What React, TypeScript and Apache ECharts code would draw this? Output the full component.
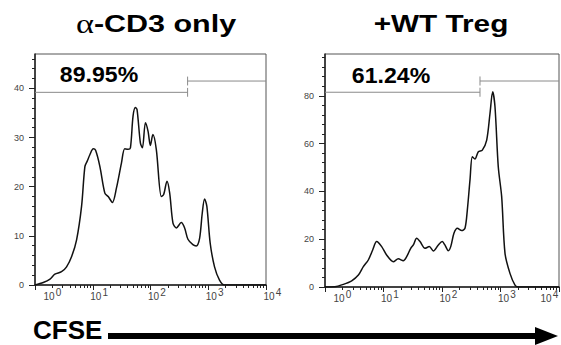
import { useEffect, useRef } from "react";
import * as echarts from "echarts";

// CFSE intensity (log scale) and event counts
const leftCfse = [1, 1.39, 1.82, 2.21, 2.88, 3.52, 4.31, 5.25, 6.4, 7.31, 8.02, 8.91, 10.2, 11.2, 13.3, 16.2, 18.5, 21.9, 25.7, 31.4, 35.8, 40.9, 44.9, 49.9, 54.8, 58.5, 66.8, 72.4, 81.7, 90.6, 99.5, 110, 126, 154, 169, 193, 215, 245, 280, 341, 390, 445, 542, 619, 708, 787, 863, 946, 1081, 1285, 1567, 1914, 10000];
const leftCount = [0, 0.5, 1.2, 2.2, 2.7, 3.7, 5.8, 9.2, 16, 24.1, 25.2, 26.5, 27.7, 27.4, 24.1, 18.7, 18, 16.8, 19.7, 24.8, 27.7, 27.6, 27.9, 34.4, 36.1, 35.7, 28.9, 27.9, 33, 31.3, 28.4, 30.6, 27.6, 18, 18.4, 21.1, 18.7, 12.6, 11.6, 12.7, 11.6, 9.3, 8.2, 7.96, 9.5, 14.6, 17.5, 16, 8.5, 3.7, 1, 0, 0];

const rightCfse = [1, 1.48, 2.06, 2.86, 3.72, 4.52, 5.5, 6.53, 7.64, 9.31, 11.3, 14.7, 17.9, 21.8, 24.9, 29.2, 32.4, 36.9, 42.1, 51.2, 60.7, 71.1, 86.5, 101, 112, 128, 141, 160, 183, 217, 247, 271, 301, 330, 366, 418, 489, 581, 662, 735, 805, 916, 1047, 1194, 1452, 1770, 2018, 10000];
const rightCount = [0, 0.1, 1.1, 2.6, 5, 8.5, 11.3, 15.5, 19, 16.9, 13.4, 10.6, 11.8, 11, 12.7, 16.2, 17.6, 20.4, 19, 16.2, 16.9, 15.1, 17.6, 19, 17.6, 15.2, 16.9, 22.5, 24.6, 23.6, 24.6, 32.2, 44.8, 54.5, 53.6, 56.6, 57.3, 61.5, 72.7, 81.7, 75.4, 50.3, 37.8, 14.1, 5.7, 0.8, 0, 0];

const panelTitles = ["α-CD3 only", "+WT Treg"];
const gatePercents = ["89.95%", "61.24%"];

// gate: split position on CFSE axis, lower / upper bar heights, end-bar half height
const gateSplit = [439, 446];
const gateLower = [39.2, 81.5];
const gateUpper = [41.5, 86.2];
const gateBarHalf = [0.9, 1.9];

const yMax = [47, 97.5];
const yMajorTicks = [
  [0, 10, 20, 30, 40],
  [0, 20, 40, 60, 80],
];
const yMinorTicks = [
  [2, 4, 6, 8, 12, 14, 16, 18, 22, 24, 26, 28, 32, 34, 36, 38, 42, 44, 46],
  [4, 8, 12, 16, 24, 28, 32, 36, 44, 48, 52, 56, 64, 68, 72, 76, 84, 88, 92, 96],
];
const xMinorTicks = [2, 3, 4, 5, 6, 7, 8, 9, 20, 30, 40, 50, 60, 70, 80, 90, 200, 300, 400, 500, 600, 700, 800, 900, 2000, 3000, 4000, 5000, 6000, 7000, 8000, 9000];

const grids = [
  { left: 35, top: 54, width: 231, height: 231 },
  { left: 325, top: 54, width: 234, height: 233 },
];

const AXIS = "#222";
const LABEL = "#444";
const LBL_FONT = { fontSize: 10, color: LABEL, fontFamily: "Liberation Sans" };

export default function App() {
  const ref = useRef<HTMLDivElement>(null);

  useEffect(() => {
    if (!ref.current) return;
    const chart = echarts.init(ref.current, null, { renderer: "svg" });

    const xAxes: any[] = [];
    const yAxes: any[] = [];
    const series: any[] = [];

    [0, 1].forEach((i) => {
      xAxes.push({
        gridIndex: i,
        type: "log",
        logBase: 10,
        min: 1,
        max: 10000,
        position: "bottom",
        axisLine: { show: true, lineStyle: { color: AXIS, width: 1.5 } },
        axisTick: { show: true, length: 5, lineStyle: { color: AXIS, width: 1 } },
        splitLine: { show: false },
        axisLabel: {
          margin: 6,
          verticalAlign: "top",
          formatter: (v: number) => {
            const e = Math.round(Math.log10(v));
            if (e === 0) return `{s0|${e}}\n{b0|10}`;
            if (e === 4 && i === 1) return `{sR|${e}}\n{bR|10}`;
            return `{s|${e}}\n{b|10}`;
          },
          rich: {
            s: { ...LBL_FONT, lineHeight: 2, padding: [0, 0, 0, 25] },
            b: { ...LBL_FONT, lineHeight: 6, padding: [0, 0, 0, 6] },
            s0: { ...LBL_FONT, lineHeight: 2, padding: [0, 0, 0, 47] },
            b0: { ...LBL_FONT, lineHeight: 6, padding: [0, 0, 0, 28] },
            sR: { ...LBL_FONT, lineHeight: 2, padding: [0, 7, 0, 0] },
            bR: { ...LBL_FONT, lineHeight: 6, padding: [0, 26, 0, 0] },
          },
        },
      });
      xAxes.push({
        gridIndex: i,
        type: "log",
        logBase: 10,
        min: 1,
        max: 10000,
        position: "bottom",
        axisLine: { show: false },
        axisTick: { show: true, length: 3, customValues: xMinorTicks, lineStyle: { color: AXIS, width: 1 } },
        axisLabel: { show: false },
        splitLine: { show: false },
      });
      yAxes.push({
        gridIndex: i,
        type: "value",
        min: 0,
        max: yMax[i],
        position: "left",
        axisLine: { show: true, lineStyle: { color: AXIS, width: 1.5 } },
        axisTick: { show: true, length: 6, customValues: yMajorTicks[i], lineStyle: { color: AXIS, width: 1 } },
        axisLabel: { customValues: yMajorTicks[i], fontSize: 9, color: LABEL, margin: 11, fontFamily: "Liberation Sans" },
        splitLine: { show: false },
      });
      yAxes.push({
        gridIndex: i,
        type: "value",
        min: 0,
        max: yMax[i],
        position: "left",
        axisLine: { show: false },
        axisTick: { show: true, length: 3, customValues: yMinorTicks[i], lineStyle: { color: AXIS, width: 1 } },
        axisLabel: { show: false },
        splitLine: { show: false },
      });

      const xs = i === 0 ? leftCfse : rightCfse;
      const ys = i === 0 ? leftCount : rightCount;
      series.push({
        type: "line",
        xAxisIndex: i * 2,
        yAxisIndex: i * 2,
        data: xs.map((x, k) => [x, ys[k]]),
        smooth: 0.3,
        showSymbol: false,
        silent: true,
        lineStyle: { color: "#111", width: 1.5 },
        z: 3,
      });

      const gateSegs = [
        [[1, gateLower[i]], [gateSplit[i], gateLower[i]]],
        [[gateSplit[i], gateLower[i] - gateBarHalf[i]], [gateSplit[i], gateLower[i] + gateBarHalf[i]]],
        [[gateSplit[i], gateUpper[i]], [10000, gateUpper[i]]],
        [[gateSplit[i], gateUpper[i] - gateBarHalf[i]], [gateSplit[i], gateUpper[i] + gateBarHalf[i]]],
      ];
      gateSegs.forEach((seg) => {
        series.push({
          type: "line",
          xAxisIndex: i * 2,
          yAxisIndex: i * 2,
          data: seg,
          showSymbol: false,
          silent: true,
          lineStyle: { color: "#8a8a8a", width: 1 },
          z: 2,
        });
      });
    });

    chart.setOption({
      animation: false,
      backgroundColor: "#fff",
      grid: grids.map((g) => ({
        ...g,
        show: true,
        outerBoundsMode: "none",
        containLabel: false,
        borderColor: "#555",
        borderWidth: 1,
        backgroundColor: "transparent",
      })),
      xAxis: xAxes,
      yAxis: yAxes,
      series,
      graphic: [
        {
          type: "text",
          x: 156,
          y: 24,
          scaleX: 1.27,
          style: {
            text: `{a|α}{b|${panelTitles[0].slice(1)}}`,
            align: "center",
            verticalAlign: "middle",
            rich: {
              a: { fontFamily: "Liberation Serif", fontSize: 27, fontWeight: "normal", fill: "#000" },
              b: { fontFamily: "Liberation Sans", fontSize: 24, fontWeight: "bold", fill: "#000" },
            },
          },
        },
        {
          type: "text",
          x: 441,
          y: 24,
          scaleX: 1.24,
          style: {
            text: panelTitles[1],
            align: "center",
            verticalAlign: "middle",
            font: 'bold 24px "Liberation Sans"',
            fill: "#000",
          },
        },
        {
          type: "text",
          x: 99,
          y: 75,
          scaleX: 1.05,
          style: { text: gatePercents[0], align: "center", verticalAlign: "middle", font: 'bold 22px "Liberation Sans"', fill: "#000" },
        },
        {
          type: "text",
          x: 391,
          y: 76,
          scaleX: 1.05,
          style: { text: gatePercents[1], align: "center", verticalAlign: "middle", font: 'bold 22px "Liberation Sans"', fill: "#000" },
        },
        {
          type: "text",
          x: 33,
          y: 330,
          scaleX: 1.04,
          style: { text: "CFSE", align: "left", verticalAlign: "middle", font: 'bold 25px "Liberation Sans"', lineHeight: 22, fill: "#000" },
        },
        {
          type: "line",
          shape: { x1: 108, y1: 336, x2: 537, y2: 336 },
          style: { stroke: "#000", lineWidth: 6 },
        },
        {
          type: "polygon",
          shape: { points: [[535, 327], [558, 336], [535, 345]] },
          style: { fill: "#000" },
        },
      ],
    });

    return () => chart.dispose();
  }, []);

  return (
    <div
      ref={ref}
      style={{ position: "fixed", left: 0, top: 0, width: 561, height: 345, background: "#fff" }}
    />
  );
}
